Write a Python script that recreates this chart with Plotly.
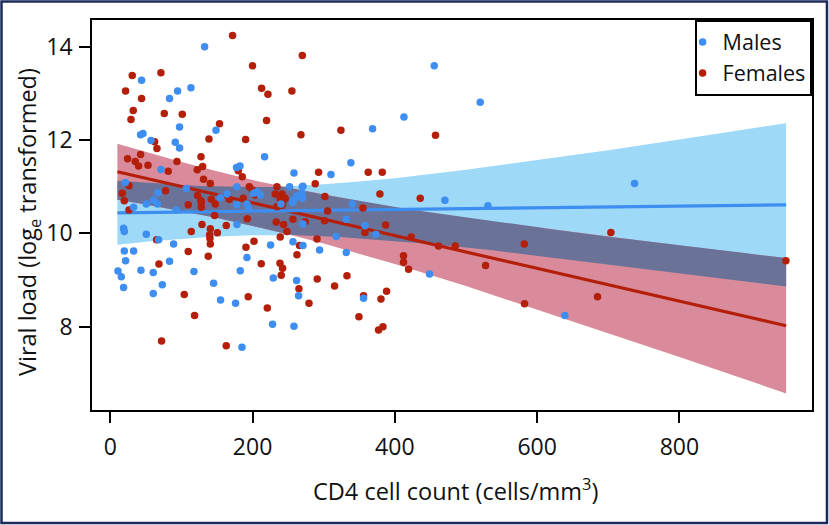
import numpy as np
import plotly.graph_objects as go

# ---------------- data ----------------
male_cd4 = [132.6, 44.0, 94.6, 113.4, 83.3, 97.4, 42.6, 46.0, 148.6, 57.2, 91.4, 97.4, 216.9, 177.5,
            182.3, 71.3, 258.2, 21.1, 106.8, 178.0, 252.0, 67.0, 164.0, 206.2, 210.8, 262.4, 455.4,
            520.0, 412.8, 368.7, 338.2, 310.2, 270.8, 470.4, 269.4, 737.0, 530.8, 448.8, 639.0, 18.7,
            19.7, 32.8, 50.6, 60.9, 66.5, 50.6, 67.9, 89.0, 19.7, 32.8, 21.5, 10.8, 15.5, 18.7, 43.1,
            60.4, 83.3, 73.1, 60.4, 117.6, 145.2, 155.0, 176.1, 185.1, 182.7, 192.1, 178.0, 225.3,
            229.1, 228.1, 258.2, 256.8, 261.9, 264.7, 92.8, 269.9, 257.6, 340.1, 270.8, 331.7, 358.0,
            373.4, 317.6, 270.8, 294.2, 331.7, 356.0, 269.9, 256.2, 239.9, 201.4, 192.1, 194.4, 154.6,
            178.0]
male_vl = [14.00, 13.28, 13.05, 13.12, 12.89, 12.28, 12.11, 12.14, 12.21, 11.99, 11.95, 11.83, 11.64, 11.41,
           11.44, 11.37, 11.29, 11.09, 10.96, 11.00, 11.00, 10.87, 10.84, 10.89, 10.82, 10.80, 13.59,
           12.81, 12.49, 12.24, 11.51, 11.26, 11.01, 10.71, 10.86, 11.07, 10.59, 9.13, 8.24, 10.11,
           10.04, 10.56, 10.63, 10.71, 10.63, 9.98, 9.86, 9.77, 9.62, 9.62, 9.41, 9.19, 9.07, 8.84, 9.21,
           9.16, 9.40, 8.90, 8.71, 9.18, 8.93, 8.57, 8.50, 7.56, 9.20, 9.48, 10.19, 9.75,
           9.04, 8.05, 8.01, 9.82, 8.99, 8.66, 10.50, 10.75, 10.71, 10.63, 10.20, 10.30, 10.16,
           9.98, 9.93, 9.74, 9.64, 9.59, 8.61, 11.00, 10.66, 10.63, 10.86, 10.63, 10.54, 10.76,
           10.61]

female_cd4 = [171.9, 200.0, 30.9, 71.2, 21.5, 44.0, 212.7, 221.6, 255.3, 32.3, 29.1, 75.9, 101.2, 219.7,
              153.6, 138.7, 190.2, 268.0, 62.3, 65.6, 24.3, 35.1, 42.6, 39.8, 53.0, 93.7, 81.5, 127.5,
              129.8, 122.3, 131.1, 140.6, 179.9, 185.5, 195.4, 200.0, 77.7, 26.3, 16.9, 122.7, 234.3,
              231.9, 241.3, 269.9, 324.2, 457.2, 292.8, 362.6, 382.3, 288.1, 301.7, 379.0, 435.7, 703.7,
              423.0, 461.4, 484.9, 581.9, 412.2, 412.2, 419.3, 949.7, 527.5, 582.3, 684.9, 19.7, 26.3,
              109.6, 127.9, 127.9, 142.0, 147.6, 146.6, 128.9, 163.0, 113.8, 150.5, 65.1, 140.1, 140.6,
              109.6, 137.7, 68.4, 202.0, 190.7, 212.2, 238.5, 242.2, 240.3, 238.9, 262.4, 265.2, 104.0,
              193.9, 220.7, 118.5, 72.1, 163.0, 233.3, 243.6, 248.3, 256.8, 192.5, 274.0, 301.2, 387.0,
              358.0, 290.6, 266.0, 290.9, 332.7, 315.3, 279.3, 388.4, 380.5, 356.0, 349.5, 377.1, 383.3,
              355.2, 305.5, 238.9, 245.9, 242.2, 234.3, 140.6, 139.7, 186.9, 127.5, 167.3, 203.8, 244.6]
female_vl = [14.24, 13.59, 13.38, 13.44, 13.05, 12.89, 13.11, 12.98, 13.05, 12.63, 12.44, 12.57, 12.55, 12.42,
             12.35, 12.02, 12.01, 12.11, 11.96, 11.82, 11.60, 11.54, 11.69, 11.44, 11.46, 11.54, 11.33, 11.64,
             11.43, 11.36, 11.16, 11.07, 11.34, 11.21, 11.00, 10.93, 10.91, 11.02, 10.86, 10.81, 11.00,
             10.84, 10.84, 13.81, 12.21, 12.10, 11.31, 11.31, 11.31, 11.06, 10.79, 10.84, 10.75, 10.02,
             9.92, 9.73, 9.73, 9.77, 9.52, 9.38, 9.23, 9.41, 9.31, 8.49, 8.64, 10.70, 10.50,
             10.61, 10.67, 10.56, 10.73, 10.63, 10.38, 10.19, 10.17, 10.04, 10.01, 9.86, 9.89, 9.77,
             9.61, 9.51, 9.34, 9.83, 9.70, 9.35, 9.36, 9.25, 9.10, 9.92, 9.54, 8.81, 8.69,
             8.64, 8.40, 8.24, 7.69, 7.59, 10.24, 10.19, 10.04, 10.30, 10.31, 10.25, 10.27, 10.18,
             10.02, 9.88, 9.74, 9.02, 9.09, 8.87, 8.50, 8.76, 8.59, 8.66, 8.21, 7.93, 8.00,
             10.54, 10.48, 10.74, 10.74, 10.62, 10.57, 10.10, 9.97, 10.75, 10.70, 10.73, 10.82, 10.76]

fit_cd4 = [10, 50, 100, 150, 200, 250, 300, 350, 400, 500, 600, 700, 800, 950]
male_fit = [10.44, 10.447, 10.456, 10.465, 10.474, 10.483, 10.492, 10.501, 10.51, 10.528, 10.546, 10.564, 10.582, 10.609]
male_hi = [11.125, 11.08, 11.03, 11.00, 10.99, 11.01, 11.05, 11.11, 11.18, 11.36, 11.57, 11.78, 12.01, 12.36]
male_lo = [9.755, 9.82, 9.88, 9.93, 9.96, 9.96, 9.94, 9.90, 9.84, 9.70, 9.53, 9.34, 9.15, 8.86]
female_fit = [11.32, 11.18, 11.00, 10.83, 10.65, 10.48, 10.30, 10.13, 9.95, 9.60, 9.25, 8.90, 8.55, 8.02]
female_hi = [11.92, 11.74, 11.53, 11.33, 11.14, 10.98, 10.83, 10.69, 10.56, 10.33, 10.13, 9.93, 9.74, 9.47]
female_lo = [10.72, 10.62, 10.48, 10.33, 10.16, 9.98, 9.78, 9.56, 9.34, 8.87, 8.37, 7.86, 7.35, 6.57]

x_ticks = [0, 200, 400, 600, 800]
y_ticks = [8, 10, 12, 14]

# ---------------- styles ----------------
BLUE = "#3d8ef0"
RED = "#b41f0a"
BLUE_BAND = "#9ed9f8"
RED_BAND = "#d98b9b"
OVERLAP = "#6b7298"
FONT = "Open Sans"

fig = go.Figure()


def band(xs, lo, hi, color):
    xs = list(xs)
    return go.Scatter(x=xs + xs[::-1], y=list(hi) + list(lo)[::-1], fill="toself",
                      fillcolor=color, line=dict(width=0), mode="lines",
                      hoverinfo="skip", showlegend=False)


fig.add_trace(band(fit_cd4, male_lo, male_hi, BLUE_BAND))
fig.add_trace(band(fit_cd4, female_lo, female_hi, RED_BAND))

# overlap of the two confidence bands
xg = np.linspace(fit_cd4[0], fit_cd4[-1], 941)
top = np.minimum(np.interp(xg, fit_cd4, male_hi), np.interp(xg, fit_cd4, female_hi))
bot = np.maximum(np.interp(xg, fit_cd4, male_lo), np.interp(xg, fit_cd4, female_lo))
fig.add_trace(band(xg, bot, top, OVERLAP))

fig.add_trace(go.Scatter(x=fit_cd4, y=female_fit, mode="lines", line=dict(color=RED, width=3.2),
                         showlegend=False, hoverinfo="skip"))
fig.add_trace(go.Scatter(x=fit_cd4, y=male_fit, mode="lines", line=dict(color=BLUE, width=3.2),
                         showlegend=False, hoverinfo="skip"))

fig.add_trace(go.Scatter(x=female_cd4, y=female_vl, mode="markers", name="Females",
                         marker=dict(color=RED, size=7.5, line=dict(width=0)), legendrank=2))
fig.add_trace(go.Scatter(x=male_cd4, y=male_vl, mode="markers", name="Males",
                         marker=dict(color=BLUE, size=7.5, line=dict(width=0)), legendrank=1))

axis_common = dict(showgrid=False, zeroline=False, showline=True, mirror=True, linecolor="black",
                   linewidth=1.6, ticks="outside", ticklen=11, tickwidth=1.6, tickcolor="black",
                   tickfont=dict(family=FONT, size=23, color="#111"), automargin=False)

fig.update_xaxes(range=[-25.7, 986.4], tickvals=x_ticks, ticklabelstandoff=5, **axis_common)
fig.update_yaxes(range=[6.214, 14.571], tickvals=y_ticks, ticklabelstandoff=2, **axis_common)

fig.update_layout(
    width=829, height=525,
    margin=dict(l=92, r=17, t=20, b=115, autoexpand=False),
    paper_bgcolor="white", plot_bgcolor="white",
    font=dict(family=FONT, color="#111"),
    showlegend=True,
    legend=dict(x=1, y=1, xanchor="right", yanchor="top", bgcolor="white",
                bordercolor="black", borderwidth=1.6, font=dict(family=FONT, size=21.5, color="#111"),
                tracegroupgap=0, itemwidth=30, indentation=-14),
    annotations=[
        dict(text="Viral load (log<sub>e</sub> transformed)", textangle=-90, xref="paper", yref="paper",
             x=-0.0889, y=0.482, xanchor="center", yanchor="middle", showarrow=False,
             font=dict(family=FONT, size=23.5, color="#111")),
        dict(text="CD4 cell count (cells/mm<sup>3</sup>)", xref="paper", yref="paper",
             x=0.505, y=-0.2026, xanchor="center", yanchor="middle", showarrow=False,
             font=dict(family=FONT, size=23.5, color="#111")),
    ],
    shapes=[
        dict(type="rect", xref="paper", yref="paper", x0=-0.1257, x1=1.0208, y0=-0.2897, y1=1.0474,
             line=dict(color="#1c2a5c", width=2.5), fillcolor="rgba(0,0,0,0)", layer="below"),
    ],
)

fig.write_html("out.html", config={"displayModeBar": False},
               post_script="document.body.style.margin='0';document.body.style.overflow='hidden';")
